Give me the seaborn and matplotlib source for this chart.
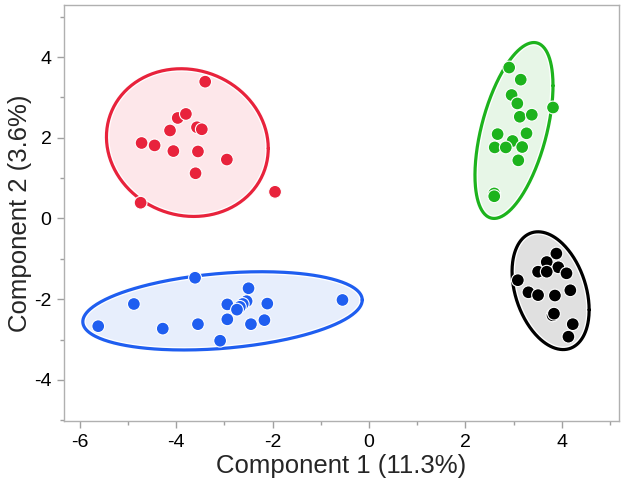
import numpy as np
import pandas as pd
import seaborn as sns
import matplotlib.pyplot as plt

# scores
red_x = [-3.40, -3.97, -3.80, -4.13, -3.57, -3.47, -4.72, -4.45, -4.06, -3.55, -2.95, -3.60, -1.95, -4.74]
red_y = [3.39, 2.49, 2.59, 2.18, 2.26, 2.21, 1.87, 1.81, 1.67, 1.66, 1.46, 1.12, 0.66, 0.39]

blue_x = [-3.61, -2.50, -4.88, -2.94, -2.54, -2.62, -2.68, -2.74, -2.11, -0.55, -5.62, -4.28,
          -3.55, -2.94, -2.45, -2.17, -3.09]
blue_y = [-1.47, -1.73, -2.12, -2.13, -2.05, -2.12, -2.19, -2.26, -2.11, -2.02, -2.67, -2.73,
          -2.62, -2.50, -2.62, -2.52, -3.03]

green_x = [2.91, 3.15, 2.96, 3.08, 3.82, 3.13, 3.38, 2.67, 3.27, 2.98, 2.61, 2.84, 3.18, 3.10, 2.60, 2.60]
green_y = [3.74, 3.44, 3.06, 2.85, 2.75, 2.52, 2.57, 2.09, 2.11, 1.92, 1.76, 1.76, 1.77, 1.44, 0.62, 0.55]

black_x = [3.89, 3.69, 3.93, 3.51, 3.69, 4.10, 3.09, 3.31, 3.51, 3.86, 4.18, 3.81, 3.84, 4.23, 4.14]
black_y = [-0.87, -1.08, -1.21, -1.32, -1.32, -1.36, -1.53, -1.83, -1.90, -1.91, -1.78, -2.40, -2.36, -2.62, -2.93]

# density ellipses: centre x, centre y, var x, var y, cov xy
ell_red = [-3.77, 1.88, 2.82, 3.35, -0.24]
ell_blue = [-3.04, -2.29, 8.41, 0.94, 0.78]
ell_green = [3.01, 2.18, 0.656, 4.75, 0.90]
ell_black = [3.77, -1.79, 0.64, 2.13, -0.38]

groups = ["red", "blue", "green", "black"]
colors = {"red": "#e8233c", "blue": "#1f5ef0", "green": "#1db31d", "black": "#000000"}
fills = {"red": "#fde7ea", "blue": "#e7eefc", "green": "#e7f6e7", "black": "#e0e0e0"}

df = pd.concat([
    pd.DataFrame({"c1": red_x, "c2": red_y, "grp": "red"}),
    pd.DataFrame({"c1": blue_x, "c2": blue_y, "grp": "blue"}),
    pd.DataFrame({"c1": green_x, "c2": green_y, "grp": "green"}),
    pd.DataFrame({"c1": black_x, "c2": black_y, "grp": "black"}),
])
ells = {"red": ell_red, "blue": ell_blue, "green": ell_green, "black": ell_black}

sns.set_style("white")
plt.rcParams["font.family"] = ["Liberation Sans", "DejaVu Sans"]
plt.rcParams["axes.unicode_minus"] = False

fig = plt.figure(figsize=(6.24, 4.90), dpi=100)
ax = fig.add_axes([0.1026, 0.1408, 0.8894, 0.849])

t = np.linspace(0, 2 * np.pi, 300)
for g in groups:
    cx, cy, vx, vy, cxy = ells[g]
    L = np.linalg.cholesky(np.array([[vx, cxy], [cxy, vy]]))
    pts = L @ np.vstack([np.cos(t), np.sin(t)])
    ex, ey = cx + pts[0], cy + pts[1]
    ax.fill(ex, ey, color=fills[g], zorder=1)
    ax.plot(ex, ey, color="white", lw=4.2, zorder=2)
    ax.plot(ex, ey, color=colors[g], lw=2.3, zorder=3)

sns.scatterplot(data=df, x="c1", y="c2", hue="grp", palette=colors, s=85,
                edgecolor="white", linewidth=0.8, legend=False, ax=ax, zorder=4)

ax.set_xlim(-6.33, 5.19)
ax.set_ylim(-5.02, 5.29)
ax.set_xticks([-6, -4, -2, 0, 2, 4])
ax.set_yticks([-4, -2, 0, 2, 4])
ax.set_xticks(np.arange(-5, 6, 2), minor=True)
ax.set_yticks(np.arange(-5, 6, 2), minor=True)
ax.tick_params(which="both", bottom=True, left=True, direction="out", color="#a0a0a0",
               labelsize=14, labelcolor="black")
ax.tick_params(which="major", length=5, width=1, pad=4)
ax.tick_params(which="minor", length=3, width=1)
for sp in ax.spines.values():
    sp.set_color("#b0b0b0")
    sp.set_linewidth(1)

ax.set_xlabel("Component 1 (11.3%)", fontsize=18.5)
ax.set_ylabel("Component 2 (3.6%)", fontsize=18.5)
ax.xaxis.set_label_coords(0.5, -0.08)
ax.yaxis.set_label_coords(-0.057, 0.5)

fig.savefig("out.png", dpi=100)
